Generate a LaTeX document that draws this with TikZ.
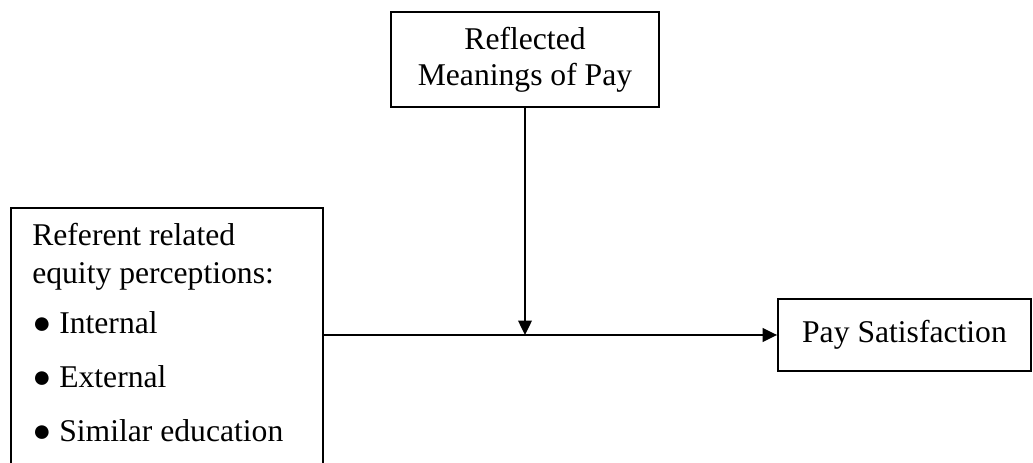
\documentclass[tikz,border=0pt]{standalone}
\usepackage{fontspec}
\setmainfont{Liberation Serif}
\usepackage{tikz}
\usetikzlibrary{arrows.meta,positioning}
\definecolor{psInk}{HTML}{000000}
\tikzset{
  ps diagram/.style={font=\fontsize{22.5}{27}\selectfont, text=psInk,
    line join=miter},
  ps box/.style={draw=psInk, fill=white, line width=1.3pt,
    align=center, inner sep=0pt},
  ps list/.style={align=left, inner sep=0pt},
  ps arrow/.style={-{Triangle[length=0.36cm,width=0.34cm]}, draw=psInk, line width=1.3pt}
}
\begin{document}
\begin{tikzpicture}[ps diagram]
\useasboundingbox (0,0) rectangle (25.825,11.575);
\node[ps box,minimum width=7.8cm,minimum height=7.3cm] (referent) at (4.175,2.725) {};
\node[ps list,anchor=north west] (equity) at (0.8,6.0) {Referent related\\equity perceptions:\\[0.3cm]● Internal\\[0.4cm]● External\\[0.4cm]● Similar education};
\node[ps box,minimum width=6.7cm,minimum height=2.375cm,font=\fontsize{22.5}{25.5}\selectfont] (meaning) at (13.125,10.0875) {Reflected\\Meanings of Pay};
\node[ps box,minimum width=6.325cm,minimum height=1.8cm] (paysat) at (22.6125,3.2) {Pay Satisfaction};
\coordinate (meet) at (meaning.south |- paysat.west);
\draw[ps arrow] (referent.east |- paysat.west) -- (paysat.west);
\draw[ps arrow] (meaning.south) -- (meet);
\end{tikzpicture}
\end{document}
